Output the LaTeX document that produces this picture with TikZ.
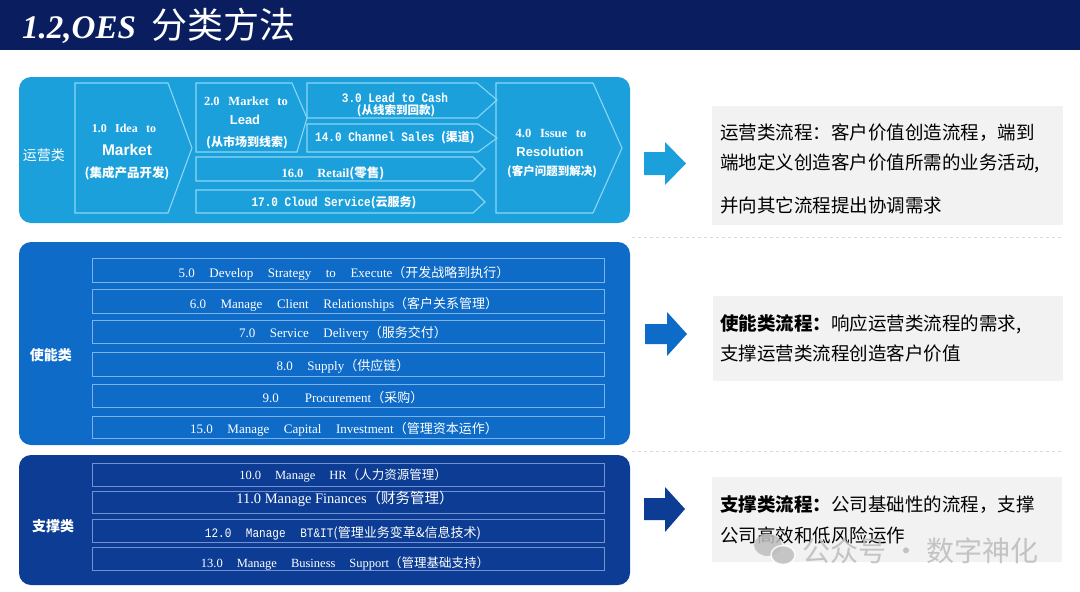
\documentclass[tikz,border=0pt]{standalone}
\usepackage{fontspec}
\setmainfont{Liberation Serif}
\setsansfont{Liberation Sans}
\setmonofont{Liberation Mono}
\newfontfamily\cjk{Noto Sans CJK SC}
\newfontfamily\simmono[FakeStretch=0.85]{Liberation Mono}
\newcommand\zh[1]{{\cjk #1}}
\newcommand\fsz[1]{\fontsize{#1}{#1}\selectfont}
\newcommand\w{\hspace{1.12em}}
\newcommand\ww{\hspace{2.0em}}
\newcommand\nw{\hspace{0.7em}}
\definecolor{navy}{RGB}{10,30,95}
\definecolor{opblue}{RGB}{27,160,220}
\definecolor{enblue}{RGB}{14,108,200}
\definecolor{supblue}{RGB}{12,60,148}
\definecolor{boxgray}{RGB}{242,242,242}
\definecolor{opline}{RGB}{140,214,244}
\definecolor{enline}{RGB}{125,178,232}
\definecolor{supline}{RGB}{115,145,208}
\definecolor{wmgray}{RGB}{190,190,190}
\begin{document}
\begin{tikzpicture}[x=1pt,y=-1pt,
  wt/.style={text=white, inner sep=0pt},
  bk/.style={text=black, inner sep=0pt, anchor=west},
  panel/.style={fill=#1, rounded corners=12pt},
  chev/.style={draw=opline, line width=1.1pt},
  rowbox/.style={draw=#1, line width=1pt},
  graybox/.style={fill=boxgray},
  bigarrow/.style={fill=#1},
  sepline/.style={draw=gray!30, dashed, line width=0.6pt}]
\useasboundingbox (0,0) rectangle (1080,592);
\fill[white] (0,0) rectangle (1080,592);
% title
\fill[navy] (0,0) rectangle (1080,50);
\node[wt, anchor=base west] (title) at (22,38) {\fsz{33}\bfseries\itshape 1.2,OES\hspace{16pt}{\cjk\upshape\mdseries\fsz{36}分类方法}};

% ---------------- top panel ----------------
\fill[panel=opblue] (19,77) rectangle (630,223);
\node[wt] (lop) at (44,155) {\zh{\fsz{14}运营类}};
\draw[chev] (75,83) -- (168,83) -- (192,148) -- (168,213) -- (75,213) -- cycle;
\draw[chev] (196,83) -- (292,83) -- (307,118) -- (297,152) -- (196,152) -- cycle;
\draw[chev] (307,83) -- (477,83) -- (497,100) -- (477,118) -- (307,118) -- cycle;
\draw[chev] (307,124) -- (478,124) -- (497,138) -- (478,152) -- (307,152) -- cycle;
\draw[chev] (196,157) -- (473,157) -- (485,169) -- (473,181) -- (196,181) -- cycle;
\draw[chev] (196,190) -- (473,190) -- (485,202) -- (473,213) -- (196,213) -- cycle;
\draw[chev] (496,83) -- (593,83) -- (622,148) -- (593,213) -- (496,213) -- cycle;

\node[wt] (t1a) at (124,128) {\fsz{12}\bfseries 1.0\nw Idea\nw to};
\node[wt] (t1b) at (127,150) {\sffamily\bfseries\fsz{15.5}Market};
\node[wt] (t1c) at (127,173) {\zh{\fsz{12.5}\bfseries (集成产品开发)}};

\node[wt] (t2a) at (246,101) {\fsz{12.5}\bfseries 2.0\nw Market\nw to};
\node[wt] (t2b) at (245,120) {\sffamily\bfseries\fsz{13}Lead};
\node[wt] (t2c) at (247,143) {\zh{\fsz{12}\bfseries (从市场到线索)}};

\node[wt] (t3a) at (395,98) {\simmono\bfseries\fsz{13}3.0 Lead to Cash};
\node[wt] (t3b) at (396,111) {\zh{\fsz{11.5}\bfseries (从线索到回款)}};

\node[wt] (t14) at (395,138) {\simmono\bfseries\fsz{13}14.0 Channel Sales \zh{\fsz{12}\bfseries (渠道)}};
\node[wt] (t16) at (333,173) {\fsz{12.5}\bfseries 16.0\w Retail\zh{(零售)}};
\node[wt] (t17) at (334,203) {\simmono\bfseries\fsz{13}17.0 Cloud Service\zh{\fsz{12}\bfseries (云服务)}};

\node[wt] (t4a) at (551,133) {\fsz{12.5}\bfseries 4.0\nw Issue\nw to};
\node[wt] (t4b) at (550,152) {\sffamily\bfseries\fsz{13}Resolution};
\node[wt] (t4c) at (552,172) {\zh{\fsz{11.5}\bfseries (客户问题到解决)}};

% ---------------- middle panel ----------------
\fill[panel=enblue] (19,242) rectangle (630,445);
\node[wt] (len) at (51,355) {\zh{\fsz{14}\bfseries 使能类}};
\foreach \a/\b in {258/282, 289/313, 320/343, 352/376, 384/407, 416/438}
  \draw[rowbox=enline] (92,\a) rectangle (604,\b);
\node[wt] (r5) at (344,273) {\fsz{13}5.0\w Develop\w Strategy\w to\w Execute\zh{（开发战略到执行）}};
\node[wt] (r6) at (344,304) {\fsz{13}6.0\w Manage\w Client\w Relationships\zh{（客户关系管理）}};
\node[wt] (r7) at (343,333) {\fsz{13}7.0\w Service\w Delivery\zh{（服务交付）}};
\node[wt] (r8) at (343,366) {\fsz{13}8.0\w Supply\zh{（供应链）}};
\node[wt] (r9) at (343,398) {\fsz{13}9.0\ww Procurement\zh{（采购）}};
\node[wt] (r15) at (344,429) {\fsz{13}15.0\w Manage\w Capital\w Investment\zh{（管理资本运作）}};

% ---------------- bottom panel ----------------
\fill[panel=supblue] (19,455) rectangle (630,585);
\node[wt] (lsu) at (53,526) {\zh{\fsz{14}\bfseries 支撑类}};
\foreach \a/\b in {463/486, 491/513, 519/542, 547/570}
  \draw[rowbox=supline] (92,\a) rectangle (604,\b);
\node[wt] (r10) at (343,475) {\fsz{12.5}10.0\w Manage\w HR\zh{（人力资源管理）}};
\node[wt] (r11) at (345,499) {\fsz{14.5}11.0 Manage Finances\zh{（财务管理）}};
\node[wt] (r12) at (343,533) {\simmono\fsz{13}12.0\w Manage\w BT\&IT\zh{(管理业务变革\&信息技术)}};
\node[wt] (r13) at (345,563) {\fsz{12.5}13.0\w Manage\w Business\w Support\zh{（管理基础支持）}};

% ---------------- separators ----------------
\draw[sepline] (632,237) -- (1062,237);
\draw[sepline] (632,451) -- (1062,451);

% ---------------- arrows ----------------
\fill[bigarrow=opblue] (644,152) -- (665,152) -- (665,142) -- (686,163.5) -- (665,185) -- (665,175) -- (644,175) -- cycle;
\fill[bigarrow=enblue] (645,324) -- (667,324) -- (667,312) -- (687,334) -- (667,356) -- (667,344) -- (645,344) -- cycle;
\fill[bigarrow=supblue] (644,498) -- (665,498) -- (665,487) -- (685,509) -- (665,532) -- (665,520) -- (644,520) -- cycle;

% ---------------- text boxes ----------------
\fill[graybox] (712,106) rectangle (1063,225);
\node[bk] (d1a) at (720,133) {\zh{\fsz{18.5}运营类流程：客户价值创造流程，端到}};
\node[bk] (d1b) at (720,163) {\zh{\fsz{18.5}端地定义创造客户价值所需的业务活动,}};
\node[bk] (d1c) at (720,205) {\zh{\fsz{18.5}并向其它流程提出协调需求}};

\fill[graybox] (713,296) rectangle (1063,381);
\node[bk] (d2a) at (720,324) {\zh{\fsz{18.5}{\bfseries 使能类流程：}响应运营类流程的需求,}};
\node[bk] (d2b) at (720,353) {\zh{\fsz{18.5}支撑运营类流程创造客户价值}};

\fill[graybox] (712,477) rectangle (1062,562);
\node[bk] (d3a) at (720,505) {\zh{\fsz{18.5}{\bfseries 支撑类流程：}公司基础性的流程，支撑}};
\node[bk] (d3b) at (720,535) {\zh{\fsz{18.5}公司高效和低风险运作}};

% ---------------- watermark ----------------
\fill[wmgray, opacity=0.85] (768,545) ellipse [x radius=14pt, y radius=11pt];
\filldraw[fill=wmgray, draw=white, line width=1.5pt, opacity=0.85] (783,555) ellipse [x radius=12pt, y radius=9.5pt];
\node[text=wmgray, anchor=west, inner sep=0pt, opacity=0.9] (wm) at (802,551) {\zh{\fsz{28}公众号 · 数字神化}};
\end{tikzpicture}
\end{document}
